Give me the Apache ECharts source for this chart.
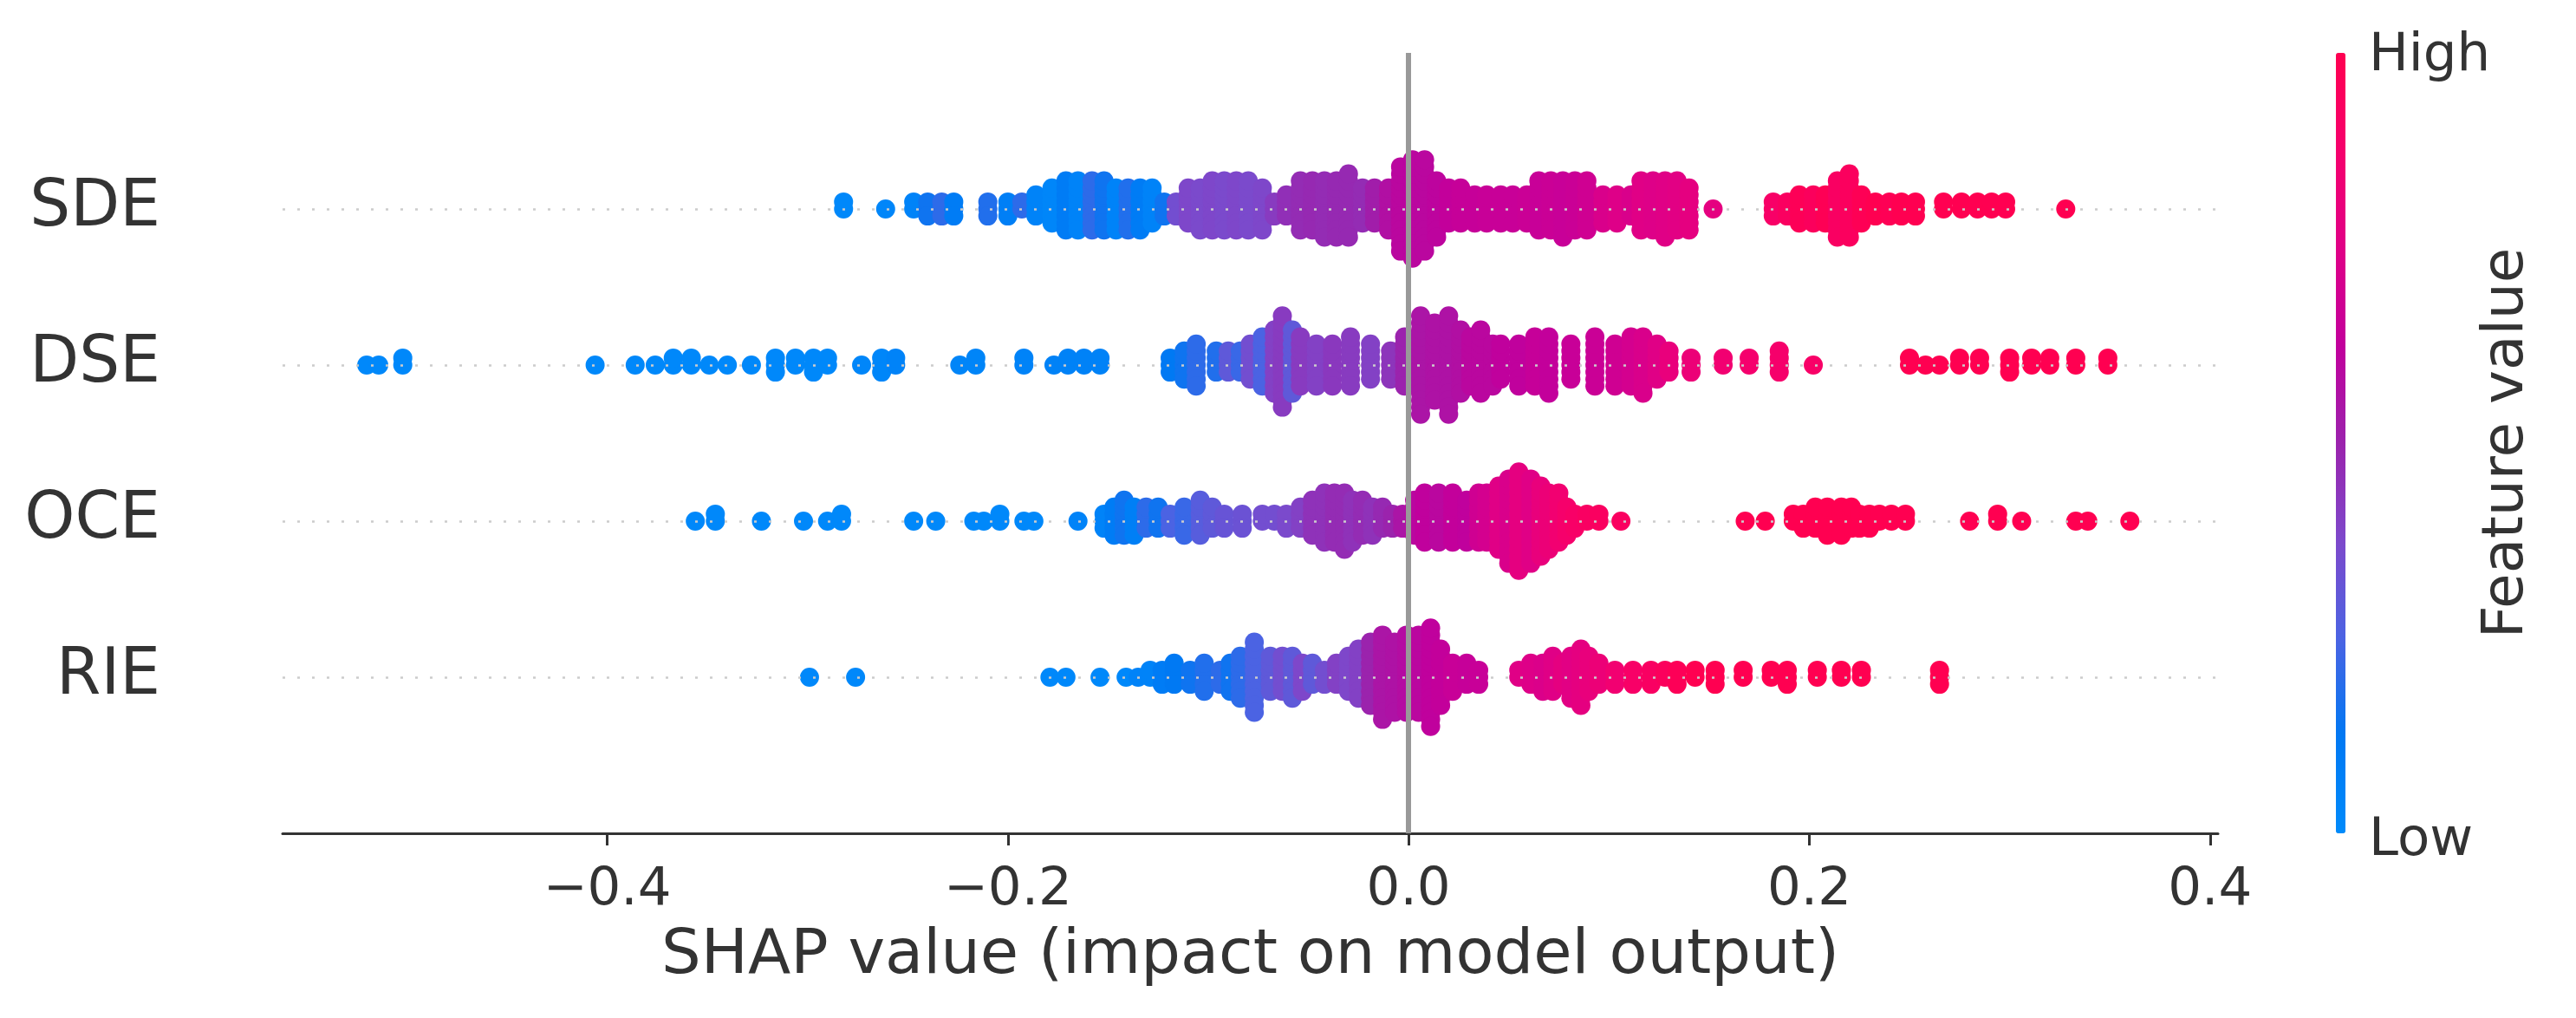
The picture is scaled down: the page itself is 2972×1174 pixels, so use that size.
<!DOCTYPE html>
<html><head><meta charset="utf-8">
<script src="https://cdn.jsdelivr.net/npm/echarts@6/dist/echarts.min.js"></script>
<style>html,body{margin:0;padding:0;background:#fff}#chart{width:2972px;height:1174px}</style>
</head><body><div id="chart"></div>
<script>
// Feature rows, top to bottom
const features = ['SDE', 'DSE', 'OCE', 'RIE'];
const xTicks = [-0.4, -0.2, 0.0, 0.2, 0.4];
const xLabel = 'SHAP value (impact on model output)';
const colorLabel = 'Feature value';
const colorEnds = ['High', 'Low'];

// Each feature: SHAP value of a group of samples, number of samples in it, normalised feature value
const sdeShap = [-0.282,-0.261,-0.247,-0.240,-0.233,-0.227,-0.210,-0.200,-0.193,-0.186,-0.178,-0.171,-0.165,-0.158,-0.152,-0.146,-0.140,-0.134,-0.128,-0.122,-0.116,-0.110,-0.104,-0.098,-0.092,-0.086,-0.080,-0.073,-0.067,-0.061,-0.054,-0.048,-0.042,-0.036,-0.030,-0.023,-0.017,-0.010,-0.004,0.002,0.008,0.014,0.020,0.026,0.033,0.039,0.046,0.052,0.059,0.065,0.071,0.077,0.083,0.089,0.097,0.104,0.111,0.116,0.122,0.128,0.134,0.140,0.152,0.182,0.189,0.195,0.202,0.208,0.214,0.220,0.226,0.233,0.240,0.246,0.253,0.267,0.276,0.284,0.291,0.298,0.328];
const sdeCount = [2,1,2,3,3,3,3,3,2,4,6,8,8,8,8,7,7,7,6,3,3,6,7,8,8,8,8,7,3,4,8,8,9,9,10,6,6,7,13,15,14,9,6,6,5,5,5,5,5,8,8,9,8,8,5,5,4,8,8,9,8,7,1,3,3,5,5,5,9,10,5,3,3,3,3,2,2,2,2,2,1];
const sdeValue = [0.02,0.03,0.05,0.15,0.2,0.1,0.18,0.08,0.2,0.05,0.03,0.1,0.05,0.2,0.15,0.05,0.18,0.1,0.05,0.15,0.35,0.38,0.37,0.38,0.37,0.38,0.37,0.38,0.42,0.46,0.47,0.48,0.47,0.48,0.48,0.47,0.52,0.57,0.6,0.6,0.6,0.61,0.63,0.64,0.64,0.65,0.65,0.65,0.66,0.65,0.66,0.65,0.66,0.68,0.72,0.74,0.72,0.75,0.74,0.75,0.76,0.78,0.78,0.9,0.93,0.97,0.95,0.98,0.92,0.94,0.98,1,0.98,1,1,1,1,1,1,1,1];

const dseShap = [-0.520,-0.514,-0.502,-0.406,-0.386,-0.376,-0.367,-0.358,-0.349,-0.340,-0.328,-0.316,-0.306,-0.297,-0.290,-0.273,-0.263,-0.256,-0.224,-0.216,-0.192,-0.177,-0.170,-0.162,-0.154,-0.119,-0.112,-0.106,-0.096,-0.090,-0.084,-0.079,-0.073,-0.067,-0.063,-0.058,-0.054,-0.046,-0.038,-0.029,-0.019,-0.009,-0.002,0.006,0.013,0.020,0.026,0.031,0.036,0.042,0.046,0.055,0.063,0.070,0.081,0.093,0.103,0.111,0.117,0.124,0.130,0.141,0.157,0.170,0.185,0.202,0.250,0.258,0.265,0.275,0.285,0.300,0.311,0.320,0.333,0.349];
const dseCount = [1,1,2,1,1,1,2,2,1,1,1,3,2,3,2,1,3,2,1,2,2,1,2,2,2,3,5,7,4,4,4,6,8,10,14,10,8,7,7,8,6,5,8,15,12,15,10,8,10,7,6,7,8,9,6,8,7,8,9,6,4,3,2,2,4,1,2,1,1,2,2,3,2,2,2,2];
const dseValue = [0.02,0.02,0.02,0.02,0.02,0.02,0.02,0.02,0.02,0.02,0.02,0.02,0.02,0.02,0.02,0.03,0.03,0.05,0.04,0.04,0.05,0.06,0.06,0.06,0.06,0.12,0.15,0.2,0.18,0.3,0.22,0.35,0.25,0.4,0.42,0.3,0.42,0.4,0.43,0.42,0.4,0.44,0.5,0.55,0.56,0.56,0.57,0.6,0.6,0.6,0.62,0.62,0.64,0.63,0.65,0.66,0.68,0.7,0.72,0.75,0.8,0.82,0.85,0.87,0.88,0.9,1,1,1,1,1,1,1,1,1,1];

const oceShap = [-0.356,-0.346,-0.323,-0.302,-0.290,-0.283,-0.247,-0.236,-0.217,-0.212,-0.204,-0.192,-0.187,-0.165,-0.152,-0.147,-0.142,-0.137,-0.131,-0.125,-0.119,-0.112,-0.104,-0.098,-0.092,-0.083,-0.073,-0.067,-0.061,-0.054,-0.048,-0.042,-0.037,-0.032,-0.028,-0.023,-0.018,-0.013,-0.008,-0.003,0.003,0.008,0.015,0.022,0.029,0.035,0.039,0.045,0.050,0.055,0.061,0.066,0.070,0.075,0.079,0.083,0.089,0.095,0.106,0.168,0.178,0.192,0.197,0.203,0.209,0.216,0.221,0.225,0.230,0.235,0.241,0.248,0.280,0.294,0.306,0.333,0.339,0.360];
const oceCount = [1,2,1,1,1,2,1,1,1,1,2,1,1,1,3,5,6,5,4,4,3,5,6,4,3,3,2,2,3,4,6,8,8,9,7,6,5,4,3,3,6,8,8,8,7,8,8,10,13,15,13,11,9,8,5,3,2,2,1,1,1,2,3,4,5,5,4,3,3,2,2,2,1,2,1,1,1,1];
const oceValue = [0.02,0.02,0.02,0.02,0.02,0.02,0.02,0.02,0.02,0.02,0.02,0.02,0.02,0.05,0.05,0.1,0.15,0.08,0.2,0.15,0.25,0.22,0.28,0.3,0.32,0.33,0.35,0.35,0.37,0.4,0.45,0.45,0.47,0.47,0.45,0.47,0.45,0.48,0.5,0.55,0.6,0.62,0.6,0.63,0.62,0.68,0.7,0.75,0.72,0.78,0.75,0.8,0.82,0.85,0.88,0.9,0.92,0.93,0.93,1,1,1,1,1,1,1,1,1,1,1,1,1,1,1,1,1,1,1];

const rieShap = [-0.299,-0.276,-0.179,-0.171,-0.154,-0.141,-0.135,-0.129,-0.123,-0.117,-0.109,-0.102,-0.094,-0.089,-0.084,-0.077,-0.069,-0.063,-0.058,-0.053,-0.048,-0.042,-0.036,-0.030,-0.025,-0.019,-0.013,-0.007,-0.001,0.005,0.011,0.016,0.022,0.029,0.035,0.055,0.061,0.067,0.072,0.077,0.081,0.086,0.090,0.095,0.103,0.112,0.121,0.128,0.134,0.143,0.153,0.167,0.181,0.189,0.204,0.216,0.226,0.265];
const rieCount = [1,1,1,1,1,1,1,2,3,4,3,5,3,5,7,11,6,6,7,5,4,3,4,6,8,10,13,11,12,12,15,9,5,4,3,2,4,5,6,4,7,9,6,4,3,3,3,2,3,2,3,2,2,3,2,2,2,3];
const rieValue = [0.02,0.02,0.02,0.02,0.02,0.02,0.05,0.05,0.1,0.12,0.15,0.18,0.2,0.15,0.2,0.25,0.3,0.35,0.3,0.38,0.3,0.35,0.4,0.38,0.4,0.5,0.55,0.56,0.58,0.6,0.62,0.63,0.65,0.64,0.65,0.75,0.74,0.73,0.75,0.78,0.76,0.78,0.8,0.82,0.85,0.9,0.92,0.95,0.97,1,1,1,1,1,1,1,1,1];

// SHAP red_blue colormap (low -> high)
const cmap = ['#008bfb','#0078f3','#4b63e3','#7d49cb','#9b23ad','#c2009c','#e00086','#f6006c','#ff0051'];

// Beeswarm stacking as SHAP does it: alternate above/below the row, scaled to the row height
function swarm(shap, count, value, row) {
  let kmax = 0;
  count.forEach(n => { for (let l = 0; l < n; l++) { const k = Math.ceil(l / 2) * ((l % 2) * 2 - 1); if (k > kmax) kmax = k; } });
  const unit = 0.9 * 0.4 / (kmax + 1);
  const pts = [];
  shap.forEach((s, i) => {
    for (let l = 0; l < count[i]; l++) {
      const k = Math.ceil(l / 2) * ((l % 2) * 2 - 1);
      pts.push([s, row + k * unit, value[i]]);
    }
  });
  return pts;
}
const nRows = features.length;
const points = [].concat(
  swarm(sdeShap, sdeCount, sdeValue, nRows - 1),
  swarm(dseShap, dseCount, dseValue, nRows - 2),
  swarm(oceShap, oceCount, oceValue, nRows - 3),
  swarm(rieShap, rieCount, rieValue, nRows - 4)
);

const FONT = 'DejaVu Sans';
const chart = echarts.init(document.getElementById('chart'), null, {renderer: 'canvas'});
chart.setOption({
  animation: false,
  backgroundColor: '#ffffff',
  grid: {left: 326, right: 413, top: 61, bottom: 213, containLabel: false},
  xAxis: {
    type: 'value', min: -0.562, max: 0.404,
    axisLine: {onZero: false, lineStyle: {color: '#333333', width: 3}},
    axisTick: {show: true, customValues: xTicks, length: 14, lineStyle: {color: '#333333', width: 3}},
    axisLabel: {customValues: xTicks, fontFamily: FONT, fontSize: 61, color: '#333333', margin: 36,
      formatter: v => (v < 0 ? '\u2212' : '') + Math.abs(v).toFixed(1)},
    splitLine: {show: false},
    name: xLabel, nameLocation: 'middle', nameGap: 106,
    nameTextStyle: {fontFamily: FONT, fontSize: 72, color: '#333333'}
  },
  yAxis: {
    type: 'value', min: -1, max: nRows, interval: 1,
    axisLine: {show: false, onZero: false}, axisTick: {show: false}, splitLine: {show: false},
    axisLabel: {fontFamily: FONT, fontSize: 74, color: '#333333', margin: 141,
      formatter: v => (v >= 0 && v < nRows) ? features[nRows - 1 - v] : ''}
  },
  visualMap: {
    type: 'continuous', min: 0, max: 1, dimension: 2, seriesIndex: 1,
    inRange: {color: cmap}, orient: 'vertical', left: 2695, top: 61,
    itemWidth: 11, itemHeight: 900, padding: 0, calculable: false, hoverLink: false,
    showLabel: false
  },
  graphic: [
    {type: 'text', x: 2733, y: 65, style: {text: colorEnds[0], font: '61px "DejaVu Sans"', fill: '#333333', align: 'left', verticalAlign: 'middle'}},
    {type: 'text', x: 2733, y: 970, style: {text: colorEnds[1], font: '61px "DejaVu Sans"', fill: '#333333', align: 'left', verticalAlign: 'middle'}},
    {type: 'text', x: 2893, y: 511, rotation: Math.PI / 2, style: {text: colorLabel, font: '66px "DejaVu Sans"', fill: '#333333', align: 'center', verticalAlign: 'middle'}}
  ],
  series: [
    {
      type: 'scatter', data: [], z: 1, silent: true,
      markLine: {
        silent: true, symbol: 'none', label: {show: false}, animation: false,
        data: [
          {yAxis: 0, lineStyle: {color: '#cccccc', width: 2.5, type: [3, 14]}},
          {yAxis: 1, lineStyle: {color: '#cccccc', width: 2.5, type: [3, 14]}},
          {yAxis: 2, lineStyle: {color: '#cccccc', width: 2.5, type: [3, 14]}},
          {yAxis: 3, lineStyle: {color: '#cccccc', width: 2.5, type: [3, 14]}},
          {xAxis: 0, lineStyle: {color: '#999999', width: 6, type: 'solid'}}
        ]
      }
    },
    {
      type: 'scatter', data: points, symbol: 'circle', symbolSize: 22, z: 3,
      itemStyle: {opacity: 1, borderWidth: 0}
    }
  ]
});
</script></body></html>
